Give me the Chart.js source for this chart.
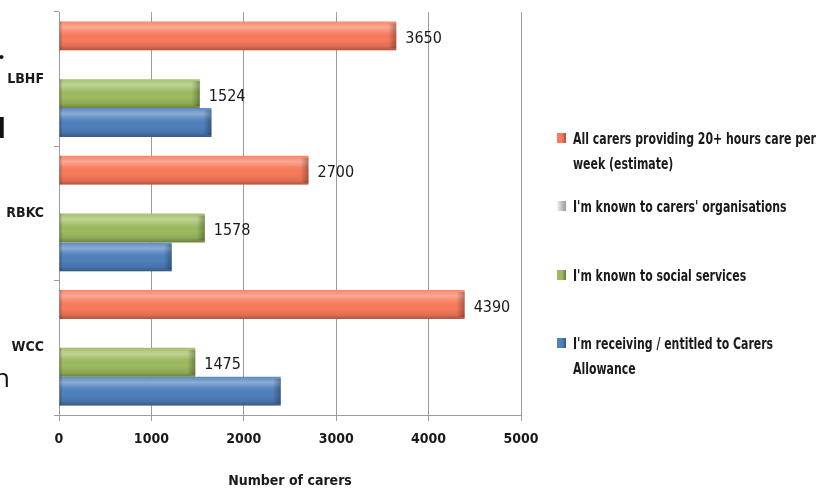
<!DOCTYPE html>
<html>
<head>
<meta charset="utf-8">
<script src="https://cdn.jsdelivr.net/npm/chart.js@4"></script>
<style>
  body{ margin:0; background:#fff; }
  #wrap{ position:relative; width:835px; height:490px; overflow:hidden; font-family:"DejaVu Sans Condensed","DejaVu Sans",sans-serif; color:#1a1a1a; }
  #chart{ position:absolute; left:0; top:0; }
  .legend{ position:absolute; left:557px; width:300px; font-size:16px; font-weight:bold; line-height:25px; color:#1a1a1a; white-space:nowrap; }
  .legend .sw{ position:absolute; left:0; top:7px; width:9px; height:10px; }
  .legend .txt{ margin-left:16px; transform:scaleX(0.76); transform-origin:0 0; }
  .frag{ position:absolute; color:#111; font-family:"Open Sans",sans-serif; }
</style>
</head>
<body>
<div id="wrap">
  <canvas id="chart" width="835" height="490"></canvas>
  <div id="legend"></div>
  <!-- edges of neighbouring slide text -->
  <span class="frag" style="left:-2px;top:33px;font-size:24px;font-weight:bold;">.</span>
  <span class="frag" style="left:-3px;top:108px;font-size:28px;font-weight:bold;">I</span>
  <span class="frag" style="left:-6px;top:359px;font-size:26px;">n</span>
</div>
<script>
// boroughs and series (number of carers)
const boroughs = ['LBHF', 'RBKC', 'WCC'];
const allCarers = [3650, 2700, 4390];
const carersOrgs = [null, null, null];
const socialServices = [1524, 1578, 1475];
const carersAllowance = [1650, 1220, 2400];
const xTicks = [0, 1000, 2000, 3000, 4000, 5000];

const seriesNames = [
  ['All carers providing  20+ hours care per', 'week (estimate)'],
  ["I'm known to carers' organisations"],
  ["I'm known to social  services"],
  ["I'm receiving / entitled to Carers", 'Allowance']
];
const seriesColors = ['#f97b5c', '#e4e4e4', '#9dbb5f', '#4f81bd'];
const labelled = [true, false, true, false]; // which series show value labels

const FONT = '"DejaVu Sans Condensed","DejaVu Sans",sans-serif';

/* ---------- legend ---------- */
const legendTops = [126, 194, 263, 331];
const leg = document.getElementById('legend');
seriesNames.forEach((lines, i) => {
  const d = document.createElement('div');
  d.className = 'legend';
  d.style.top = legendTops[i] + 'px';
  const grad = i === 1
    ? 'linear-gradient(90deg,#f4f4f4,#b8b8b8 60%,#9a9a9a)'
    : `linear-gradient(90deg,${seriesColors[i]},${seriesColors[i]} 55%,rgba(0,0,0,0.35))`;
  d.innerHTML = `<span class="sw" style="background:${grad};background-color:${seriesColors[i]}"></span>` +
    `<div class="txt">${lines.join('<br>')}</div>`;
  leg.appendChild(d);
});

/* ---------- bar shading + value labels ---------- */
const bevelPlugin = {
  id: 'bevel',
  afterDatasetsDraw(chart){
    const ctx = chart.ctx;
    chart.data.datasets.forEach((ds, di) => {
      const meta = chart.getDatasetMeta(di);
      meta.data.forEach((el, i) => {
        if (ds.data[i] == null) return;
        const p = el.getProps(['x','y','base','height'], true);
        const left = Math.min(p.x, p.base), right = Math.max(p.x, p.base);
        const top = p.y - p.height/2, bottom = p.y + p.height/2;
        ctx.save();
        const g = ctx.createLinearGradient(0, top, 0, bottom);
        g.addColorStop(0, 'rgba(255,255,255,0.08)');
        g.addColorStop(0.2, 'rgba(255,255,255,0.34)');
        g.addColorStop(0.38, 'rgba(255,255,255,0.08)');
        g.addColorStop(0.62, 'rgba(0,0,0,0)');
        g.addColorStop(0.85, 'rgba(0,0,0,0.10)');
        g.addColorStop(1, 'rgba(0,0,0,0.30)');
        ctx.fillStyle = g;
        ctx.fillRect(left, top, right-left, bottom-top);
        // bevelled end caps
        const e = ctx.createLinearGradient(right-8, 0, right, 0);
        e.addColorStop(0, 'rgba(0,0,0,0)');
        e.addColorStop(1, 'rgba(0,0,0,0.30)');
        ctx.fillStyle = e;
        ctx.fillRect(right-8, top+2, 8, bottom-top-4);
        ctx.fillStyle = 'rgba(0,0,0,0.18)';
        ctx.fillRect(left, top, 2, bottom-top);
        ctx.restore();

        if (labelled[di]) {
          ctx.save();
          ctx.font = '16px ' + FONT;
          ctx.fillStyle = '#1a1a1a';
          ctx.textAlign = 'left';
          ctx.textBaseline = 'middle';
          ctx.fillText(String(ds.data[i]), right + 9, p.y + 3);
          ctx.restore();
        }
      });
    });
  }
};

const seriesData = [allCarers, carersOrgs, socialServices, carersAllowance];

new Chart(document.getElementById('chart'), {
  type: 'bar',
  data: {
    labels: boroughs,
    datasets: seriesData.map((d, i) => ({
      label: seriesNames[i].join(' '),
      data: d,
      backgroundColor: seriesColors[i],
      borderWidth: 0,
      categoryPercentage: 0.86,
      barPercentage: 1.0
    }))
  },
  options: {
    indexAxis: 'y',
    responsive: false,
    animation: false,
    layout: { padding: { top: 12, right: 314, left: 0, bottom: 0 } },
    plugins: { legend: { display: false }, tooltip: { enabled: false } },
    scales: {
      x: {
        min: 0, max: 5000,
        afterBuildTicks: s => { s.ticks = xTicks.map(v => ({ value: v })); },
        grid: { color: '#9c9c9c', tickLength: 6, tickColor: '#9c9c9c' },
        border: { color: '#9c9c9c' },
        ticks: { color: '#1a1a1a', padding: 10, callback: v => String(v),
                 font: { family: FONT, size: 14, weight: 'bold' } },
        title: { display: true, text: 'Number of carers', color: '#1a1a1a', padding: 0,
                 font: { family: FONT, size: 14, weight: 'bold' } },
        afterFit: s => { s.height = 75; s.paddingLeft = 0; s.paddingRight = 0; }
      },
      y: {
        grid: { offset: true, drawOnChartArea: false, tickLength: 5, color: '#9c9c9c' },
        border: { color: '#9c9c9c' },
        ticks: { color: '#1a1a1a', padding: 10, font: { family: FONT, size: 14, weight: 'bold' } },
        afterFit: s => { s.width = 59; s.paddingTop = 0; s.paddingBottom = 0; }
      }
    }
  },
  plugins: [bevelPlugin]
});
</script>
</body>
</html>
